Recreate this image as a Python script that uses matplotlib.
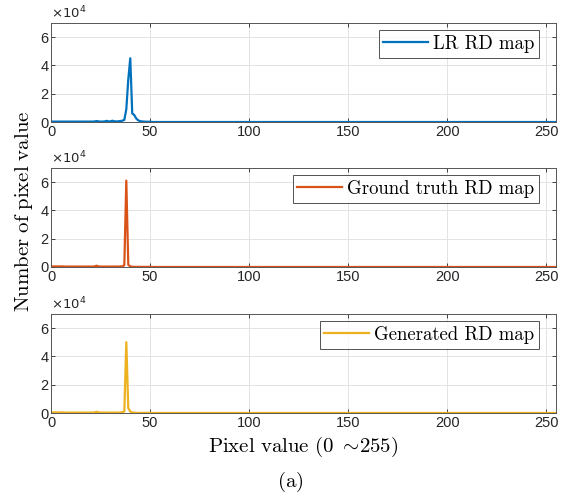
import numpy as np
import matplotlib.pyplot as plt
from matplotlib.ticker import FuncFormatter

plt.rcParams['mathtext.fontset'] = 'cm'
plt.rcParams['font.family'] = ['Liberation Sans', 'DejaVu Sans']

# histogram counts for pixel values 1..50 (everything above is ~0)
lr_head = [300, 300, 300, 300, 300, 300, 300, 300, 300, 300,
           300, 300, 300, 300, 300, 300, 300, 300, 300, 300,
           300, 400, 700, 400, 300, 300, 400, 800, 400, 500,
           900, 500, 400, 500, 700, 900, 1500, 9000, 30000, 45000,
           6000, 5000, 2500, 1200, 600, 400, 300, 200, 200, 200]
gt_head = [400, 400, 400, 400, 400, 400, 300, 300, 300, 300,
           300, 300, 300, 300, 300, 300, 300, 300, 300, 300,
           300, 400, 900, 400, 300, 300, 300, 300, 300, 300,
           300, 300, 300, 300, 400, 500, 1200, 61000, 1500, 400,
           200, 100, 100, 100, 100, 100, 100, 100, 100, 100]
gen_head = [400, 400, 400, 400, 400, 400, 300, 300, 300, 300,
            300, 300, 300, 300, 300, 300, 300, 300, 300, 300,
            300, 400, 900, 400, 300, 300, 300, 300, 300, 300,
            300, 300, 300, 300, 400, 500, 1200, 50000, 3500, 1000,
            400, 200, 100, 100, 100, 100, 100, 100, 100, 100]

pixel = np.arange(1, 257)


def full_hist(head):
    counts = np.zeros(256)
    counts[:len(head)] = head
    return counts


series = [("LR RD map", lr_head, "#0072BD"),
          ("Ground truth RD map", gt_head, "#D95319"),
          ("Generated RD map", gen_head, "#EDB120")]

fig = plt.figure(figsize=(5.74, 4.97), dpi=100)
bottoms = [0.7545, 0.4628, 0.169]
for (name, head, col), b in zip(series, bottoms):
    ax = fig.add_axes([0.0889, b, 0.88, 0.1995])
    ax.plot(pixel, full_hist(head), color=col, lw=1.6, label=name)
    ax.set_xlim(0, 255)
    ax.set_ylim(0, 70000)
    ax.set_xticks([0, 50, 100, 150, 200, 250])
    ax.set_yticks([0, 20000, 40000, 60000])
    ax.yaxis.set_major_formatter(FuncFormatter(lambda v, p: "%d" % round(v / 1e4)))
    ax.grid(True, color="#e3e3e3", lw=0.7)
    ax.set_axisbelow(True)
    ax.tick_params(direction="in", length=3, width=0.6, colors="#262626",
                   labelsize=10.5, top=True, right=True, pad=2)
    for s in ax.spines.values():
        s.set_color("#555555")
        s.set_linewidth(0.7)
    ax.text(0.0, 1.015, r"$\times10^4$", transform=ax.transAxes, fontsize=9.5,
            color="#262626", math_fontfamily="dejavusans", va="bottom")
    leg = ax.legend(loc="upper right", bbox_to_anchor=(0.966, 0.925),
                    handlelength=2.4, handletextpad=0.25, borderpad=0.25,
                    fancybox=False, borderaxespad=0,
                    prop={"family": "cmr10", "size": 13.5})
    leg.get_frame().set_edgecolor("#262626")
    leg.get_frame().set_linewidth(0.7)

fig.text(0.042, 0.575, r"$\mathrm{Number\ of\ pixel\ value}$", rotation=90,
         ha="center", va="center", fontsize=15)
fig.text(0.528, 0.1, r"$\mathrm{Pixel\ value\ (0\ \sim\!255)}$",
         ha="center", va="center", fontsize=15)
fig.text(0.505, 0.03, r"$\mathrm{(a)}$", ha="center", va="center", fontsize=15)

fig.savefig("out.png", dpi=100)
